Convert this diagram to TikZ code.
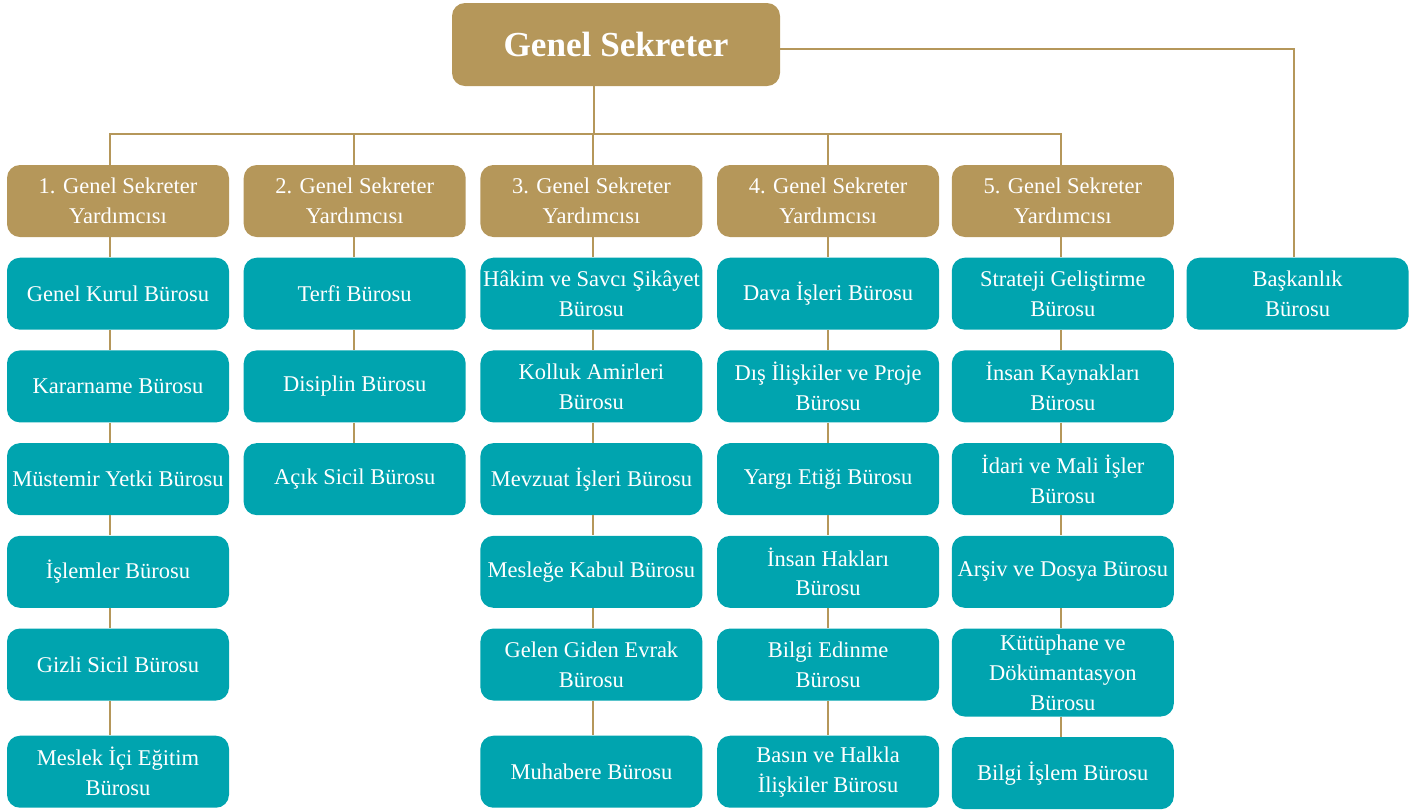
\documentclass[tikz,border=0pt]{standalone}
\usepackage{fontspec}
\setmainfont{Liberation Serif}
\usetikzlibrary{positioning}
\definecolor{gold}{RGB}{181,151,90}
\definecolor{officeteal}{RGB}{0,164,175}

\begin{document}
\begin{tikzpicture}[font=\fontsize{12.8}{17}\selectfont,node distance=0.40cm,
                    every node/.style={align=center,text=white}]
  \tikzset{chief/.style={rectangle,rounded corners=0.26cm,fill=gold,
             minimum width=6.56cm,minimum height=1.66cm,
             font=\fontsize{20}{24}\selectfont\bfseries},
           deputy/.style={rectangle,rounded corners=0.26cm,fill=gold,inner sep=0pt,
             minimum width=4.44cm,minimum height=1.44cm},
           office/.style={deputy,fill=officeteal},
           link/.style={draw=gold,line width=0.04cm}}

  \useasboundingbox (0,0) rectangle (28.32,-16.18);

  \node[chief]  (gs)                      at (12.32,-0.89) {Genel Sekreter};

  \node[deputy] (y1)                      at (2.36,-4.02) {1. Genel Sekreter\\Yardımcısı};
  \node[deputy] (y2) [right=0.28cm of y1] {2. Genel Sekreter\\Yardımcısı};
  \node[deputy] (y3) [right=0.28cm of y2] {3. Genel Sekreter\\Yardımcısı};
  \node[deputy] (y4) [right=0.28cm of y3] {4. Genel Sekreter\\Yardımcısı};
  \node[deputy] (y5) [right=0.24cm of y4] {5. Genel Sekreter\\Yardımcısı};

  % 1. yardimci
  \node[office] (b11) [below=of y1]  {Genel Kurul Bürosu};
  \node[office] (b12) [below=of b11] {Kararname Bürosu};
  \node[office] (b13) [below=of b12] {Müstemir Yetki Bürosu};
  \node[office] (b14) [below=of b13] {İşlemler Bürosu};
  \node[office] (b15) [below=of b14] {Gizli Sicil Bürosu};
  \node[office] (b16) [below=0.69cm of b15] {Meslek İçi Eğitim\\Bürosu};

  % 2. yardimci
  \node[office] (b21) [below=of y2]  {Terfi Bürosu};
  \node[office] (b22) [below=of b21] {Disiplin Bürosu};
  \node[office] (b23) [below=of b22] {Açık Sicil Bürosu};

  % 3. yardimci
  \node[office] (b31) [below=of y3]  {Hâkim ve Savcı Şikâyet\\Bürosu};
  \node[office] (b32) [below=of b31] {Kolluk Amirleri\\Bürosu};
  \node[office] (b33) [below=of b32] {Mevzuat İşleri Bürosu};
  \node[office] (b34) [below=of b33] {Mesleğe Kabul Bürosu};
  \node[office] (b35) [below=of b34] {Gelen Giden Evrak\\Bürosu};
  \node[office] (b36) [below=0.69cm of b35] {Muhabere Bürosu};

  % 4. yardimci
  \node[office] (b41) [below=of y4]  {Dava İşleri Bürosu};
  \node[office] (b42) [below=of b41] {Dış İlişkiler ve Proje\\Bürosu};
  \node[office] (b43) [below=of b42] {Yargı Etiği Bürosu};
  \node[office] (b44) [below=of b43] {İnsan Hakları\\Bürosu};
  \node[office] (b45) [below=of b44] {Bilgi Edinme\\Bürosu};
  \node[office] (b46) [below=0.69cm of b45] {Basın ve Halkla\\İlişkiler Bürosu};

  % 5. yardimci
  \node[office] (b51) [below=of y5]  {Strateji Geliştirme\\Bürosu};
  \node[office] (b52) [below=of b51] {İnsan Kaynakları\\Bürosu};
  \node[office] (b53) [below=of b52] {İdari ve Mali İşler\\Bürosu};
  \node[office] (b54) [below=of b53] {Arşiv ve Dosya Bürosu};
  \node[office,minimum height=1.76cm] (b55) [below=of b54] {Kütüphane ve\\Dökümantasyon\\Bürosu};
  \node[office] (b56) [below=of b55] {Bilgi İşlem Bürosu};

  \node[office] (bk) [right=0.24cm of b51] {Başkanlık\\Bürosu};

  % baglantilar
  \draw[link] ([xshift=-0.44cm]gs.south) -- ++(0,-0.96) coordinate (hub);
  \foreach \n/\dx in {y1/-0.16,y2/-0.02,y3/0.04,y4/0,y5/-0.04}
    \draw[link] (hub) -| ([xshift=\dx cm]\n.north);
  \draw[link] ([yshift=-0.08cm]gs.east) -| ([xshift=-0.08cm]bk.north);

  \foreach \a/\b/\dx in {y1/b11/-0.16,b11/b12/-0.16,b12/b13/-0.16,b13/b14/-0.16,
                         b14/b15/-0.16,b15/b16/-0.16,
                         y2/b21/-0.02,b21/b22/-0.02,b22/b23/-0.02,
                         y3/b31/0.04,b31/b32/0.04,b32/b33/0.04,b33/b34/0.04,
                         b34/b35/0.04,b35/b36/0.04,
                         y4/b41/0,b41/b42/0,b42/b43/0,b43/b44/0,b44/b45/0,b45/b46/0,
                         y5/b51/-0.04,b51/b52/-0.04,b52/b53/-0.04,b53/b54/-0.04,
                         b54/b55/-0.04,b55/b56/-0.04}
    \draw[link] ([xshift=\dx cm]\a.south) -- ([xshift=\dx cm]\b.north);

\end{tikzpicture}
\end{document}
